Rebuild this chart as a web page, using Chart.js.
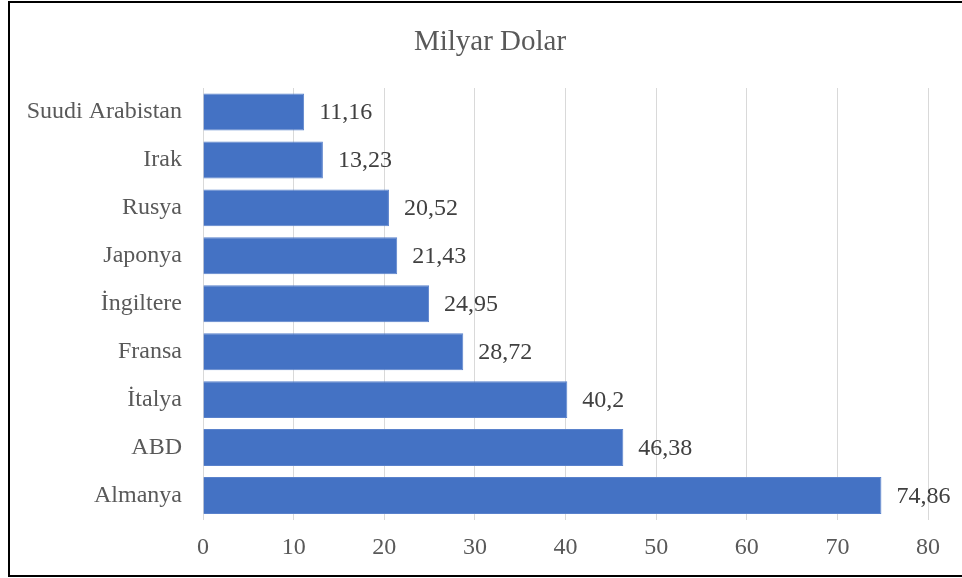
<!DOCTYPE html>
<html>
<head>
<meta charset="utf-8">
<script src="https://cdn.jsdelivr.net/npm/chart.js@4/dist/chart.umd.min.js"></script>
<style>
html,body{margin:0;padding:0;background:#fff;overflow:hidden;}
#wrap{position:relative;width:962px;height:578px;}
#frame{position:absolute;left:8px;top:1px;width:1000px;height:572px;border:2px solid #000;border-right:none;pointer-events:none;}
</style>
</head>
<body>
<div id="wrap">
<canvas id="c" width="962" height="578"></canvas>
<div id="frame"></div>
</div>
<script>
const categories = ["Suudi Arabistan","Irak","Rusya","Japonya","İngiltere","Fransa","İtalya","ABD","Almanya"];
const values = [11.16,13.23,20.52,21.43,24.95,28.72,40.2,46.38,74.86];
const xTicks = [0,10,20,30,40,50,60,70,80];
const titleText = "Milyar Dolar";

const FONT = '"Liberation Serif","Times New Roman",serif';

const labelPlugin = {
  id: 'barLabels',
  afterDatasetsDraw(chart){
    const ctx = chart.ctx;
    const meta = chart.getDatasetMeta(0);
    ctx.save();
    ctx.font = '24px ' + FONT;
    ctx.fillStyle = '#404040';
    ctx.textAlign = 'left';
    ctx.textBaseline = 'middle';
    meta.data.forEach((bar, i) => {
      const txt = String(values[i]).replace('.', ',');
      ctx.fillText(txt, bar.x + 15, bar.y + 1);
    });
    ctx.restore();
  }
};

const titlePlugin = {
  id: 'frameTitle',
  afterDraw(chart){
    const ctx = chart.ctx;
    ctx.save();
    ctx.font = '29px ' + FONT;
    ctx.fillStyle = '#595959';
    ctx.textAlign = 'center';
    ctx.textBaseline = 'middle';
    ctx.fillText(titleText, 490, 42);
    ctx.restore();
  }
};

new Chart(document.getElementById('c'), {
  type: 'bar',
  data: {
    labels: categories,
    datasets: [{
      data: values,
      backgroundColor: '#4472C4',
      borderColor: '#5a82cc',
      borderWidth: 1,
      categoryPercentage: 1,
      barPercentage: 0.77
    }]
  },
  options: {
    indexAxis: 'y',
    responsive: false,
    animation: false,
    layout: { padding: { left: 10, right: 34, top: 88, bottom: 0 } },
    plugins: {
      legend: { display: false },
      tooltip: { enabled: false },
      title: { display: false }
    },
    scales: {
      x: {
        min: 0, max: 80,
        afterBuildTicks(scale){ scale.ticks = xTicks.map(v => ({value: v})); },
        afterFit(scale){ scale.height = 58.5; },
        grid: { color: '#d9d9d9', lineWidth: 1, drawTicks: false },
        border: { display: false },
        ticks: { color: '#595959', font: { family: FONT, size: 24 }, padding: 14 }
      },
      y: {
        afterFit(scale){ scale.width = 193; },
        grid: { display: false, drawTicks: false },
        border: { display: false },
        ticks: { color: '#595959', font: { family: FONT, size: 24 }, padding: 21, autoSkip: false }
      }
    }
  },
  plugins: [labelPlugin, titlePlugin]
});
</script>
</body>
</html>
